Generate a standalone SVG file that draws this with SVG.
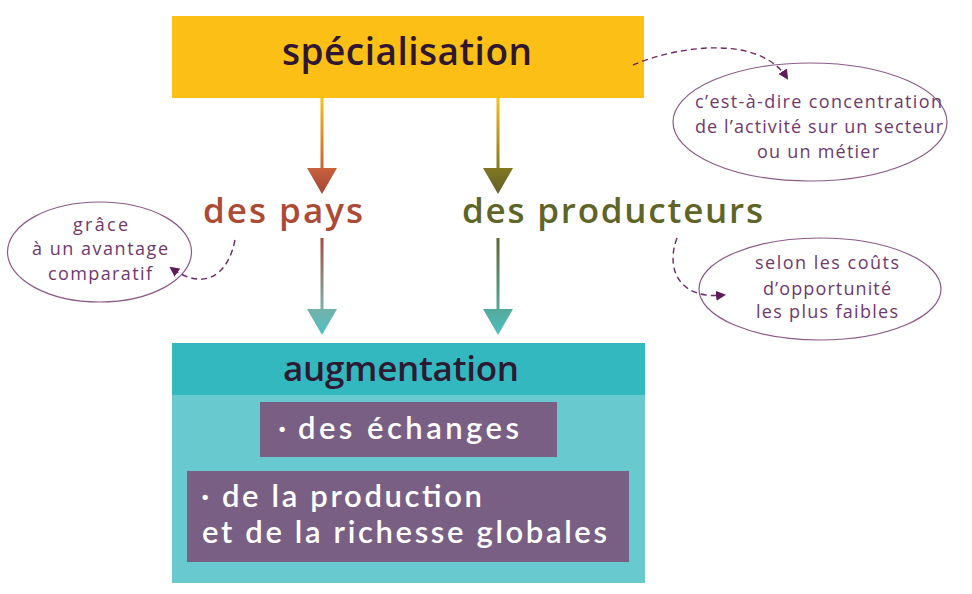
<svg xmlns="http://www.w3.org/2000/svg" width="972" height="594" viewBox="0 0 972 594">
<defs>
<style>
.lbl{font-family:"Open Sans",Lato,"DejaVu Sans",sans-serif;font-weight:600;}
.note{font-family:"Open Sans",Lato,"DejaVu Sans",sans-serif;font-weight:400;font-size:18px;fill:#6e3a6c;}
.ell{fill:none;stroke:#8b5a88;stroke-width:1.2;}
.dash{fill:none;stroke:#6a2a63;stroke-width:1.4;stroke-dasharray:6 4;}
.wt{fill:#ffffff;font-size:31px;font-family:Lato,"Open Sans","DejaVu Sans",sans-serif;font-weight:600;}
</style>
<marker id="ah" viewBox="0 0 10 10" refX="8" refY="5" markerWidth="10" markerHeight="10" markerUnits="userSpaceOnUse" orient="auto">
<path d="M0,0 L10,5 L0,10 Z" fill="#5e1d58"/>
</marker>
<linearGradient id="g1" gradientUnits="userSpaceOnUse" x1="0" y1="98" x2="0" y2="194">
<stop offset="0" stop-color="#f9c015"/><stop offset="0.75" stop-color="#c4603a"/><stop offset="1" stop-color="#a6443a"/>
</linearGradient>
<linearGradient id="g2" gradientUnits="userSpaceOnUse" x1="0" y1="98" x2="0" y2="194">
<stop offset="0" stop-color="#f9c015"/><stop offset="0.75" stop-color="#7f7522"/><stop offset="1" stop-color="#5f602a"/>
</linearGradient>
<linearGradient id="g3" gradientUnits="userSpaceOnUse" x1="0" y1="238" x2="0" y2="335">
<stop offset="0" stop-color="#a64a3c"/><stop offset="0.7" stop-color="#7aaea8"/><stop offset="1" stop-color="#4dc2c2"/>
</linearGradient>
<linearGradient id="g4" gradientUnits="userSpaceOnUse" x1="0" y1="238" x2="0" y2="335">
<stop offset="0" stop-color="#5c6530"/><stop offset="0.7" stop-color="#56a596"/><stop offset="1" stop-color="#4cc2c2"/>
</linearGradient>
</defs>
<rect width="972" height="594" fill="#ffffff"/>

<g id="specialisation">
<rect x="172" y="16" width="472" height="82" fill="#fbbf16"/>
<text class="lbl" x="282" y="65" font-size="37" fill="#2f1631" textLength="250" lengthAdjust="spacing">spécialisation</text>
</g>

<g id="note-concentration">
<ellipse class="ell" cx="810" cy="122" rx="137" ry="59"/>
<text class="note"><tspan x="695" y="108" textLength="247" lengthAdjust="spacing">c’est-à-dire concentration</tspan><tspan x="695" y="133" textLength="248" lengthAdjust="spacing">de l’activité sur un secteur</tspan><tspan x="757" y="158" textLength="122" lengthAdjust="spacing">ou un métier</tspan></text>
</g>

<g id="des-pays">
<text class="lbl" x="203" y="223" font-size="35" fill="#ac4a36" textLength="160" lengthAdjust="spacing">des pays</text>
</g>

<g id="des-producteurs">
<text class="lbl" x="462" y="223" font-size="35" fill="#5f6428" textLength="301" lengthAdjust="spacing">des producteurs</text>
</g>

<g id="note-avantage">
<ellipse class="ell" cx="99.5" cy="252" rx="92" ry="50"/>
<text class="note"><tspan x="73" y="231" textLength="55" lengthAdjust="spacing">grâce</tspan><tspan x="32" y="255" textLength="136" lengthAdjust="spacing">à un avantage</tspan><tspan x="48" y="280" textLength="104" lengthAdjust="spacing">comparatif</tspan></text>
</g>

<g id="note-couts">
<ellipse class="ell" cx="820" cy="289" rx="121" ry="51"/>
<text class="note"><tspan x="755" y="269" textLength="144" lengthAdjust="spacing">selon les coûts</tspan><tspan x="763" y="295" textLength="128" lengthAdjust="spacing">d’opportunité</tspan><tspan x="756" y="318" textLength="142" lengthAdjust="spacing">les plus faibles</tspan></text>
</g>

<g id="augmentation">
<rect x="172" y="343" width="473" height="240" fill="#68c9ce"/>
<rect x="172" y="343" width="473" height="52" fill="#33b8bf"/>
<text class="lbl" x="283" y="381" font-size="35" fill="#2e1a33" textLength="236" lengthAdjust="spacing">augmentation</text>
<rect x="260" y="402" width="297" height="55" fill="#7a5f85"/>
<text class="wt"><tspan x="278" y="439">·</tspan><tspan x="298" y="439" textLength="221" lengthAdjust="spacing">des échanges</tspan></text>
<rect x="187" y="471" width="442" height="91" fill="#7a5f85"/>
<text class="wt"><tspan x="201" y="507">·</tspan><tspan x="222" y="507" textLength="260" lengthAdjust="spacing">de la production</tspan><tspan x="202" y="543" textLength="405" lengthAdjust="spacing">et de la richesse globales</tspan></text>
</g>

<g id="connectors">
<line x1="322" y1="98" x2="322" y2="170" stroke="url(#g1)" stroke-width="3"/>
<path d="M307,168 L337,168 L322,194 Z" fill="url(#g1)"/>
<line x1="498" y1="98" x2="498" y2="170" stroke="url(#g2)" stroke-width="3"/>
<path d="M483,168 L513,168 L498,194 Z" fill="url(#g2)"/>
<line x1="322" y1="238" x2="322" y2="311" stroke="url(#g3)" stroke-width="3"/>
<path d="M307,309 L337,309 L322,335 Z" fill="url(#g3)"/>
<line x1="498" y1="238" x2="498" y2="311" stroke="url(#g4)" stroke-width="3"/>
<path d="M483,309 L513,309 L498,335 Z" fill="url(#g4)"/>
<path class="dash" d="M633,65 C680,45 760,35 787,78" marker-end="url(#ah)"/>
<path class="dash" d="M235,240 C228,275 205,292 171,268" marker-end="url(#ah)"/>
<path class="dash" d="M677,238 C665,270 680,300 724,295" marker-end="url(#ah)"/>
</g>
</svg>
